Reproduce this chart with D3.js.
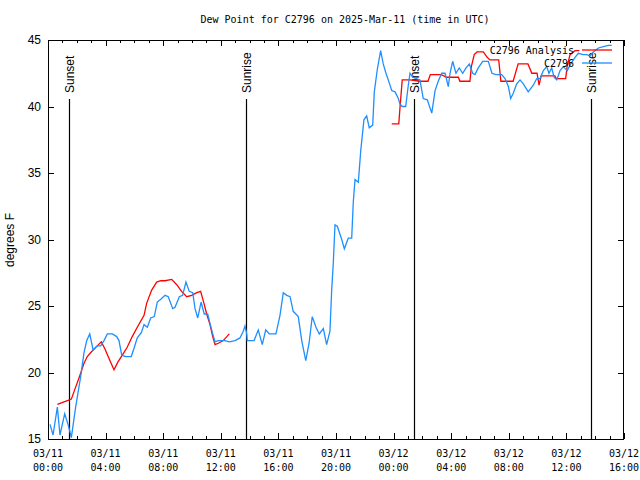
<!DOCTYPE html>
<html><head><meta charset="utf-8">
<script src="https://cdn.jsdelivr.net/npm/d3@7"></script>
<style>body{margin:0;background:#fff}svg{display:block}</style>
</head><body>
<script>
// Hours after 2025-03-11 00:00 UTC
const obsHours = [0.14,0.35,0.65,0.83,1.16,1.39,1.51,1.62,1.92,2.27,2.5,2.69,2.9,3.13,3.42,3.66,3.89,4.12,4.47,4.77,4.93,5.12,5.4,5.78,5.97,6.2,6.48,6.67,6.9,7.13,7.38,7.59,7.83,8.13,8.35,8.66,8.82,9.12,9.35,9.58,9.81,10.05,10.21,10.4,10.63,10.85,11.09,11.25,11.44,11.6,11.83,12.29,12.59,12.99,13.33,13.56,13.68,13.8,13.84,14.31,14.6,14.88,15.12,15.37,15.83,16.11,16.34,16.58,16.81,17.03,17.38,17.62,17.9,18.13,18.35,18.61,18.84,19.12,19.35,19.58,19.7,19.81,19.93,20.09,20.4,20.58,20.85,21.09,21.2,21.32,21.55,21.72,21.94,22.13,22.31,22.55,22.66,22.87,23.1,23.28,23.47,23.63,23.87,24.1,24.33,24.44,24.6,24.84,25.02,25.14,25.33,25.83,26.06,26.34,26.65,26.88,27.1,27.34,27.57,27.8,27.92,28.1,28.33,28.56,28.8,29.03,29.26,29.49,29.65,29.88,30.19,30.58,30.83,31.11,31.51,31.74,31.97,32.13,32.31,32.55,32.78,33.01,33.35,33.7,33.94,34.17,34.4,34.63,34.79,34.98,35.14,35.33,35.56,35.78,36.06,36.3,36.6,36.83,37.17,37.41,37.64,37.87,38.22,38.57,38.91,39.15];
const obsValues = [16.1,15.3,17.4,15.3,16.9,16.1,15.6,15.1,17.4,19.7,21.5,22.4,22.9,21.7,22.0,22.0,22.4,22.9,22.9,22.7,22.4,21.3,21.2,21.2,21.8,22.6,23.0,23.6,23.4,24.1,24.2,25.3,25.5,25.8,25.7,24.8,24.9,25.7,25.8,26.8,26.1,26.0,24.8,24.1,25.3,24.4,24.4,23.7,22.9,22.3,22.4,22.4,22.3,22.4,22.6,23.1,23.5,22.9,22.4,22.4,23.2,22.1,23.2,22.9,22.9,24.3,26.0,25.8,25.7,24.6,24.2,22.4,20.9,22.2,24.2,23.4,22.9,23.3,22.1,23.1,26.2,28.2,31.1,31.0,30.0,29.3,30.1,30.1,32.8,34.5,34.3,36.7,39.0,39.3,38.4,38.6,41.1,42.8,44.2,43.2,42.5,42.0,41.2,41.1,40.6,40.2,40.0,40.0,41.6,42.5,42.2,42.0,40.6,40.5,39.5,41.2,41.9,42.5,42.5,41.5,42.5,43.4,42.5,42.9,42.5,42.9,43.2,42.5,42.4,42.9,43.4,43.4,42.5,42.4,42.4,42.1,41.5,40.6,41.0,41.7,42.0,41.7,41.1,41.6,42.1,42.1,42.7,43.0,42.5,42.9,42.2,42.0,42.7,43.0,42.7,43.2,43.7,44.0,43.9,43.9,43.8,44.1,44.4,44.5,44.6,44.6];

// Analysis series (null = gap)
const anaHours = [0.65,1.39,1.62,1.92,2.22,2.5,2.73,2.97,3.42,3.7,3.94,4.26,4.58,4.86,5.16,5.5,5.85,6.2,6.67,6.85,7.2,7.55,7.83,8.13,8.59,8.94,9.28,9.63,9.98,10.33,10.6,10.83,11.02,11.25,11.44,11.6,11.83,12.17,12.59,
  null,
  23.87,24.36,24.45,24.6,25.14,25.83,26.39,26.55,27.3,27.7,28.5,28.6,29.3,29.4,29.6,29.8,30.23,30.5,30.69,31.3,31.45,32.3,32.65,33.33,33.6,33.96,34.1,34.25,34.4,35.2,35.3,35.95,36.05,36.25,36.6,36.9];
const anaValues = [17.6,17.9,18.0,18.9,19.8,20.7,21.2,21.5,22.0,22.3,21.8,21.0,20.2,20.8,21.3,21.9,22.7,23.4,24.3,25.2,26.2,26.8,26.9,26.9,27.0,26.6,26.1,25.7,25.8,26.0,26.1,25.2,24.4,23.6,22.7,22.1,22.2,22.4,22.9,
  null,
  38.7,38.7,40.0,42.0,42.0,41.9,41.9,42.4,42.4,42.2,42.2,41.9,41.9,43.0,43.9,44.1,44.1,43.7,43.5,43.5,41.9,41.9,43.2,43.2,42.5,42.5,41.6,42.3,42.3,42.3,42.1,42.1,43.0,43.9,44.2,44.2];

const sunEvents = [{h:1.46,label:"Sunset"},{h:13.75,label:"Sunrise"},{h:25.4,label:"Sunset"},{h:37.7,label:"Sunrise"}];
const yTicks = [15,20,25,30,35,40,45];
const titleText = "Dew Point for C2796 on 2025-Mar-11 (time in UTC)";
const yLabel = "degrees F";
const seriesNames = ["C2796 Analysis","C2796"];
const seriesColors = ["#ff0000","#1e8fff"];

const W=640,H=480, L=48,R=624,T=40,B=439;
const t0 = Date.UTC(2025,2,11);
const toDate = h => new Date(t0 + h*3600000);

const svg = d3.select("body").append("svg").attr("width",W).attr("height",H);
const x = d3.scaleUtc().domain([toDate(0), toDate(40)]).range([L,R]);
const y = d3.scaleLinear().domain([15,45]).range([B,T]);

const mono = "'DejaVu Sans Mono', monospace";
const sans = "'Liberation Sans', Arial, sans-serif";

svg.append("text").attr("x",(L+R)/2+9).attr("y",23).attr("text-anchor","middle")
  .style("font-family",mono).style("font-size","10px").text(titleText);

// clip
svg.append("clipPath").attr("id","clip").append("rect").attr("x",L).attr("y",T).attr("width",R-L).attr("height",B-T);

// ticks: x major every 4h, minor every 1h, on bottom and top
const majorX = d3.range(0,41,4).map(toDate);
const minorX = d3.range(0,41,1).filter(h=>h%4!==0).map(toDate);
const tickG = svg.append("g").attr("stroke","#000").attr("stroke-width",1).attr("shape-rendering","crispEdges");
majorX.forEach(d=>{const px=Math.round(x(d))+0.5;
  tickG.append("line").attr("x1",px).attr("x2",px).attr("y1",B).attr("y2",B-6);
  tickG.append("line").attr("x1",px).attr("x2",px).attr("y1",T).attr("y2",T+6);});
minorX.forEach(d=>{const px=Math.round(x(d))+0.5;
  tickG.append("line").attr("x1",px).attr("x2",px).attr("y1",B).attr("y2",B-3);
  tickG.append("line").attr("x1",px).attr("x2",px).attr("y1",T).attr("y2",T+3);});
yTicks.forEach(v=>{const py=Math.round(y(v))+0.5;
  tickG.append("line").attr("x1",L).attr("x2",L+6).attr("y1",py).attr("y2",py);
  tickG.append("line").attr("x1",R).attr("x2",R-6).attr("y1",py).attr("y2",py);});

// x labels
const fmtD = d3.utcFormat("%m/%d"), fmtT = d3.utcFormat("%H:%M");
majorX.forEach(d=>{
  const t = svg.append("text").attr("text-anchor","middle").style("font-family",mono).style("font-size","10px");
  t.append("tspan").attr("x",x(d)).attr("y",457).text(fmtD(d));
  t.append("tspan").attr("x",x(d)).attr("y",471).text(fmtT(d));
});
// y labels
yTicks.forEach(v=>{
  svg.append("text").attr("x",41).attr("y",y(v)+4).attr("text-anchor","end")
    .style("font-family",sans).style("font-size","12px").text(v);
});
svg.append("text").attr("transform","translate(14,240) rotate(-90)").attr("text-anchor","middle")
  .style("font-family",sans).style("font-size","12px").text(yLabel);

// sun events
sunEvents.forEach(e=>{
  const px=Math.round(x(toDate(e.h)))+0.5;
  svg.append("line").attr("x1",px).attr("x2",px).attr("y1",B).attr("y2",99)
    .attr("stroke","#000").attr("stroke-width",1.2);
  svg.append("text").attr("transform",`translate(${px+4.5},93) rotate(-90)`).attr("text-anchor","start")
    .style("font-family",sans).style("font-size","12px").text(e.label);
});

// data
const plot = svg.append("g").attr("clip-path","url(#clip)");
const line = d3.line().defined(d=>d[0]!==null && d[1]!==null).x(d=>x(toDate(d[0]))).y(d=>y(d[1]));
plot.append("path").datum(anaHours.map((h,i)=>[h,anaValues[i]])).attr("d",line)
  .attr("fill","none").attr("stroke",seriesColors[0]).attr("stroke-width",1.3);
plot.append("path").datum(obsHours.map((h,i)=>[h,obsValues[i]])).attr("d",line)
  .attr("fill","none").attr("stroke",seriesColors[1]).attr("stroke-width",1.3);

// legend
seriesNames.forEach((n,i)=>{
  const ly = 50 + i*13;
  svg.append("text").attr("x",574).attr("y",ly+4).attr("text-anchor","end")
    .style("font-family",mono).style("font-size","10px").text(n);
  svg.append("line").attr("x1",582).attr("x2",612).attr("y1",ly).attr("y2",ly)
    .attr("stroke",seriesColors[i]).attr("stroke-width",1.3);
});

// border
svg.append("rect").attr("x",L+0.5).attr("y",T+0.5).attr("width",R-L-1).attr("height",B-T)
  .attr("fill","none").attr("stroke","#000").attr("stroke-width",1).attr("shape-rendering","crispEdges");
</script>
</body></html>
